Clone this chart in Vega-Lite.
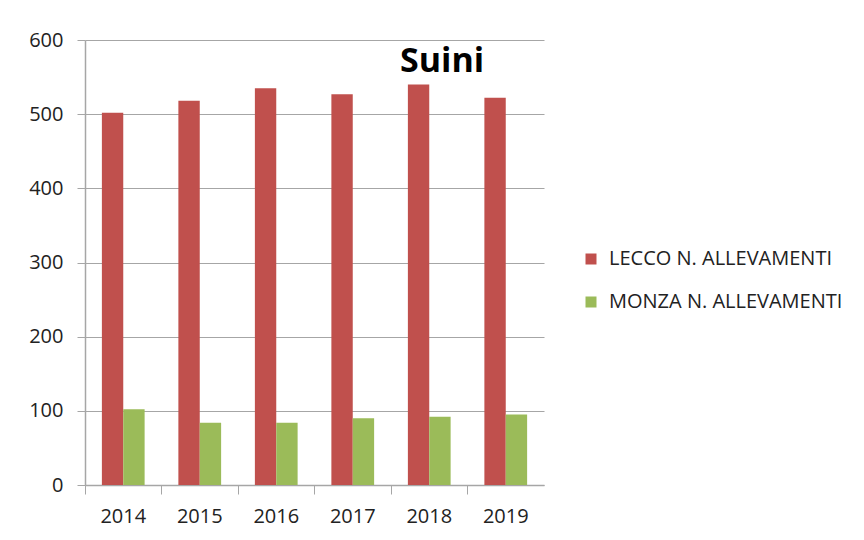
{
  "$schema": "https://vega.github.io/schema/vega-lite/v6.json",
  "autosize": "none",
  "width": 459,
  "height": 445,
  "padding": {"left": 85, "top": 40, "right": 320, "bottom": 55},
  "background": "white",
  "title": {
    "text": "Suini",
    "font": "Open Sans",
    "fontSize": 34,
    "fontWeight": "bold",
    "color": "#000000",
    "anchor": "start",
    "frame": "group",
    "dx": 315,
    "dy": 49,
    "offset": 0
  },
  "data": {
    "values": [
      {"anno": "2014", "serie": "LECCO N. ALLEVAMENTI", "valore": 502},
      {"anno": "2015", "serie": "LECCO N. ALLEVAMENTI", "valore": 518},
      {"anno": "2016", "serie": "LECCO N. ALLEVAMENTI", "valore": 535},
      {"anno": "2017", "serie": "LECCO N. ALLEVAMENTI", "valore": 527},
      {"anno": "2018", "serie": "LECCO N. ALLEVAMENTI", "valore": 540},
      {"anno": "2019", "serie": "LECCO N. ALLEVAMENTI", "valore": 522},
      {"anno": "2014", "serie": "MONZA N. ALLEVAMENTI", "valore": 102},
      {"anno": "2015", "serie": "MONZA N. ALLEVAMENTI", "valore": 84},
      {"anno": "2016", "serie": "MONZA N. ALLEVAMENTI", "valore": 84},
      {"anno": "2017", "serie": "MONZA N. ALLEVAMENTI", "valore": 90},
      {"anno": "2018", "serie": "MONZA N. ALLEVAMENTI", "valore": 92},
      {"anno": "2019", "serie": "MONZA N. ALLEVAMENTI", "valore": 95}
    ]
  },
  "mark": {"type": "bar", "stroke": null},
  "encoding": {
    "x": {
      "field": "anno",
      "type": "nominal",
      "scale": {"paddingInner": 0, "paddingOuter": 0},
      "axis": {
        "title": null,
        "labelAngle": 0,
        "bandPosition": 0,
        "tickSize": 9,
        "labelPadding": 12,
        "labelFont": "Open Sans",
        "labelFontSize": 20,
        "labelColor": "#222222",
        "domainColor": "#a6a6a6",
        "tickColor": "#a6a6a6",
        "domainWidth": 1.5,
        "grid": false
      }
    },
    "xOffset": {
      "field": "serie",
      "type": "nominal",
      "scale": {"paddingInner": 0, "paddingOuter": 0.79}
    },
    "y": {
      "field": "valore",
      "type": "quantitative",
      "scale": {"domain": [0, 600], "nice": false},
      "axis": {
        "title": null,
        "values": [0, 100, 200, 300, 400, 500, 600],
        "tickSize": 8,
        "labelPadding": 14,
        "labelFont": "Open Sans",
        "labelFontSize": 20,
        "labelColor": "#222222",
        "domainColor": "#a6a6a6",
        "tickColor": "#a6a6a6",
        "domainWidth": 1.5,
        "grid": true,
        "gridColor": "#a6a6a6",
        "gridWidth": 1.2
      }
    },
    "color": {
      "field": "serie",
      "type": "nominal",
      "scale": {"range": ["#C0504D", "#9BBB59"]},
      "legend": {
        "title": null,
        "orient": "none",
        "legendX": 496,
        "legendY": 209,
        "symbolType": "square",
        "symbolSize": 121,
        "symbolStrokeWidth": 0,
        "labelFont": "Open Sans",
        "labelFontSize": 20,
        "labelColor": "#222222",
        "labelOffset": 8,
        "rowPadding": 23,
        "labelLimit": 400
      }
    }
  },
  "config": {"view": {"stroke": null}}
}
